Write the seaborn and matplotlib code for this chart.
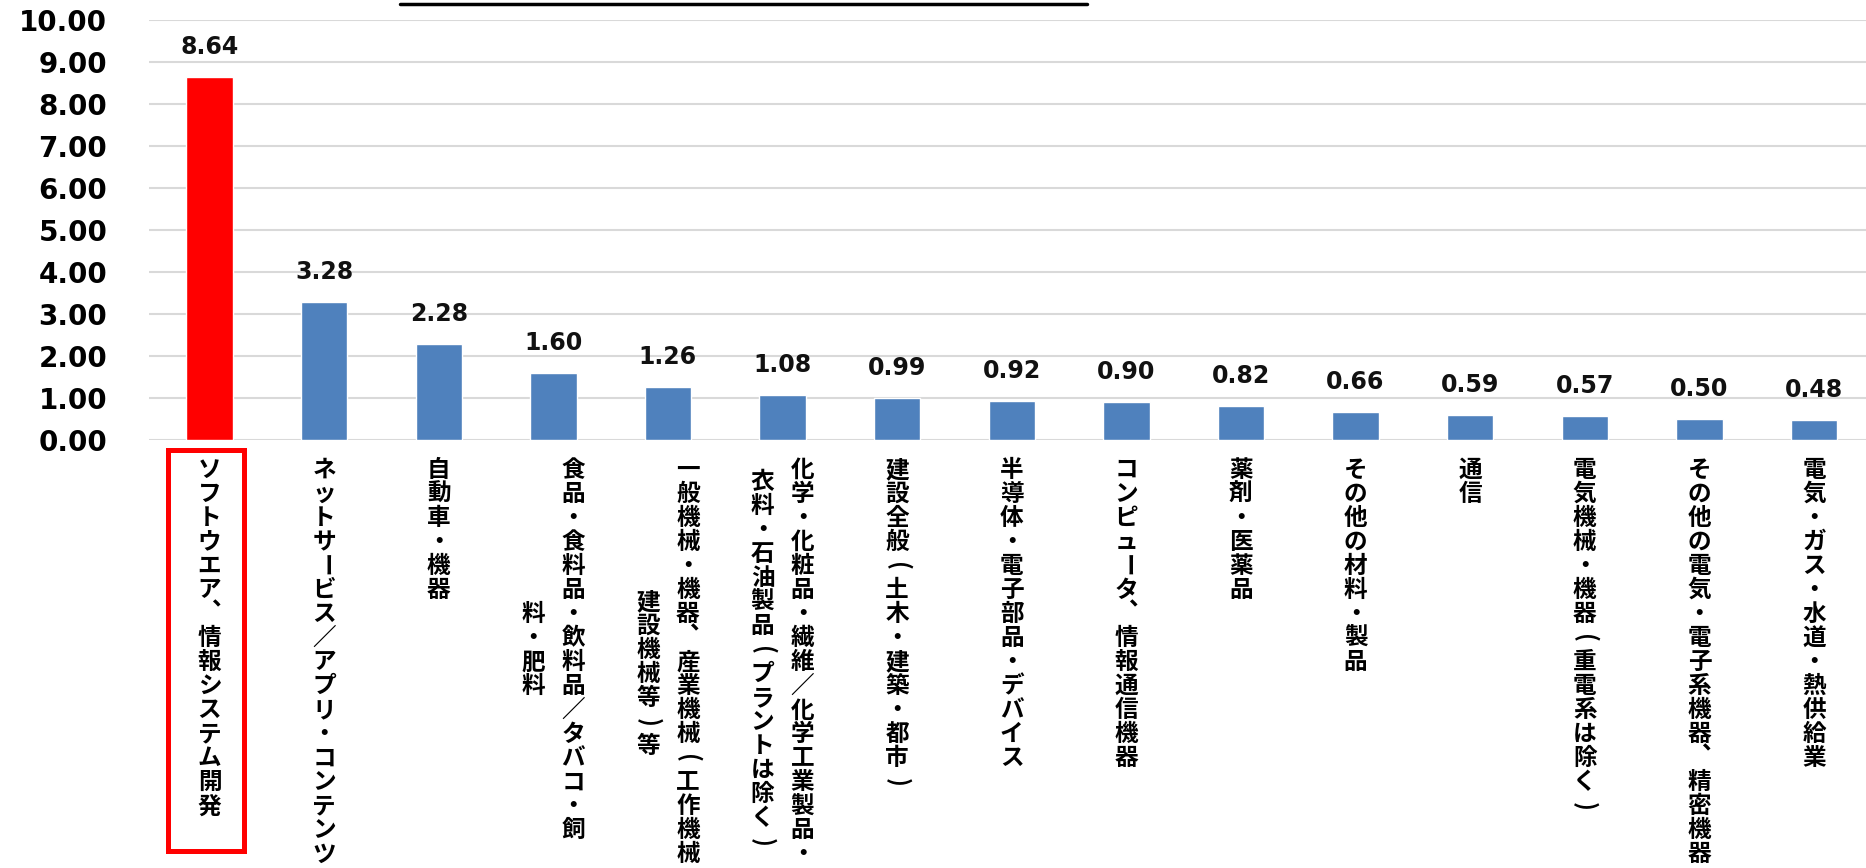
import matplotlib
matplotlib.use("Agg")
import matplotlib.pyplot as plt
import matplotlib.transforms as mtransforms
from matplotlib.patches import Rectangle
from matplotlib.lines import Line2D
import seaborn as sns

categories = [
    "ソフトウエア、情報システム開発",
    "ネットサービス／アプリ・コンテンツ",
    "自動車・機器",
    "食品・食料品・飲料品／タバコ・飼\n料・肥料",
    "一般機械・機器、産業機械(工作機械・\n建設機械等)等",
    "化学・化粧品・繊維／化学工業製品・\n衣料・石油製品(プラントは除く)",
    "建設全般(土木・建築・都市)",
    "半導体・電子部品・デバイス",
    "コンピュータ、情報通信機器",
    "薬剤・医薬品",
    "その他の材料・製品",
    "通信",
    "電気機械・機器(重電系は除く)",
    "その他の電気・電子系機器、精密機器",
    "電気・ガス・水道・熱供給業",
]
values = [8.64, 3.28, 2.28, 1.60, 1.26, 1.08, 0.99, 0.92, 0.90, 0.82, 0.66, 0.59, 0.57, 0.50, 0.48]
yticks = [0, 1, 2, 3, 4, 5, 6, 7, 8, 9, 10]

RED = "#FF0000"
BLUE = "#4F81BD"
colors = [RED] + [BLUE] * (len(categories) - 1)

sns.set_theme(style="white")
plt.rcParams["font.family"] = ["DejaVu Sans", "Noto Sans CJK JP"]
plt.rcParams["text.color"] = "black"

W, H = 1866, 868
fig = plt.figure(figsize=(W / 100, H / 100), dpi=100)
ax = fig.add_axes([149 / W, 1 - 440 / H, (W - 149) / W, (440 - 20) / H])

sns.barplot(x=categories, y=values, hue=categories, palette=colors,
            legend=False, width=0.405, ax=ax, saturation=1)

ax.set_ylim(0, 10)
ax.set_xlim(-0.528, len(categories) - 1 + 0.454)
ax.set_yticks(yticks)
ax.set_yticklabels([f"{v:.2f}" for v in yticks], fontsize=20, fontweight="bold",
                   family="DejaVu Sans", color="black")
ax.tick_params(axis="y", length=0, pad=30)
ax.set_xticks([])
ax.set_xlabel("")
ax.set_ylabel("")
ax.grid(axis="y", color="#D9D9D9", linewidth=1.5)
ax.set_axisbelow(True)
for s in ax.spines.values():
    s.set_visible(False)

# value labels
for i, v in enumerate(values):
    ax.annotate(f"{v:.2f}", xy=(i, v), xytext=(0, 13), textcoords="offset points",
                ha="center", va="bottom", fontsize=17, fontweight="bold",
                family="DejaVu Sans", color="#111111")

# vertical category labels (columns right-to-left, chars top-to-bottom)
pitch = 17.3      # points per character
col_gap = 28.8    # points between columns
y0 = 21.6         # points below axis for first char centre
rot_chars = set("()ー")
for i, label in enumerate(categories):
    cols = label.split("\n")
    N = max(len(c) for c in cols)
    ncol = len(cols)
    for j, col in enumerate(cols):
        dx = ((ncol - 1) / 2 - j) * col_gap
        start = (N - len(col)) / 2 * pitch
        for k, ch in enumerate(col):
            ox, oy = 0.0, 0.0
            if ch == "、":   # vertical-writing position of the comma
                ox, oy = 0.55 * pitch, 0.65 * pitch
            ax.annotate(ch, xy=(i, 0), xycoords=("data", "axes fraction"),
                        xytext=(dx + ox, -(y0 + start + k * pitch) + oy),
                        textcoords="offset points",
                        ha="center", va="center", fontsize=17, fontweight="bold",
                        family=["Noto Sans CJK JP", "DejaVu Sans"], color="black",
                        rotation=270 if ch in rot_chars else 0,
                        annotation_clip=False)

# red highlight box around first label
trans = mtransforms.blended_transform_factory(ax.transData, fig.transFigure)
rect = Rectangle((-0.366, 1 - 850.5 / H), 0.663, (850.5 - 449.5) / H, transform=trans,
                 fill=False, edgecolor=RED, linewidth=3.6, clip_on=False)
fig.add_artist(rect)

# title underline (title itself cropped at top)
fig.add_artist(Line2D([400 / W, 1087 / W], [1 - 4 / H, 1 - 4 / H],
                      transform=fig.transFigure, color="black", linewidth=2.5))

fig.savefig("out.png", dpi=100)
